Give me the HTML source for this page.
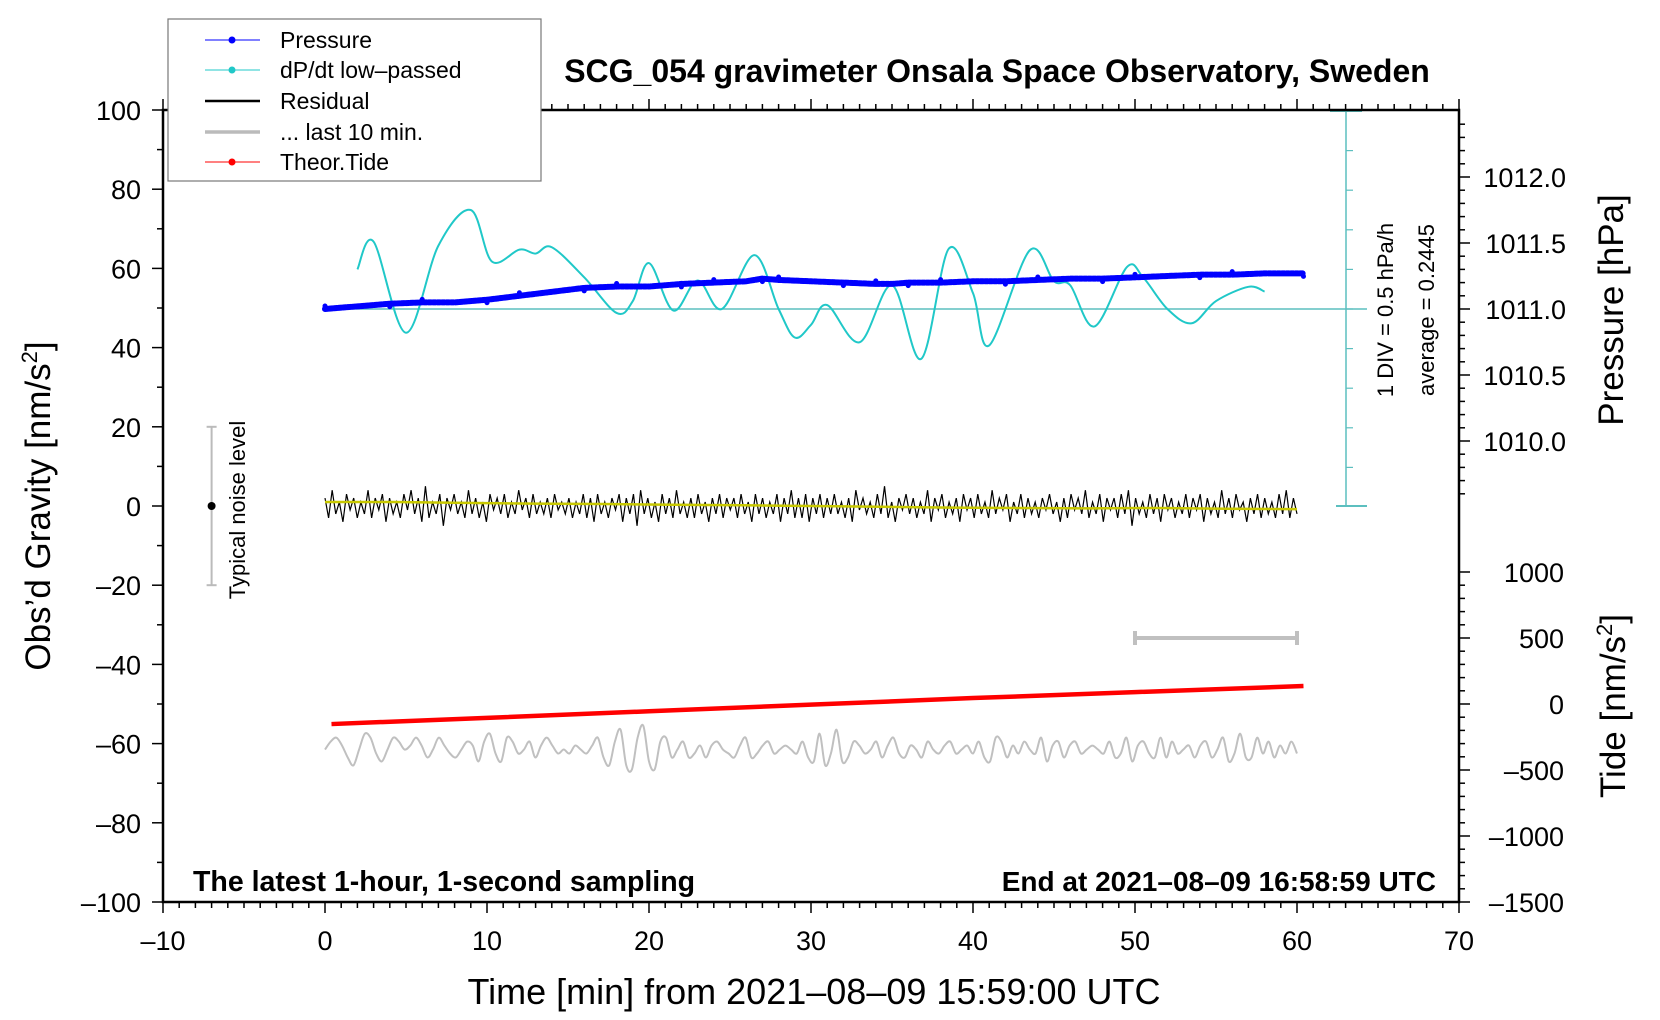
<!DOCTYPE html>
<html><head><meta charset="utf-8"><style>
html,body{margin:0;padding:0;background:#fff;}
svg{display:block;font-family:"Liberation Sans",Arial,sans-serif;}
</style></head><body>
<svg id="chart" width="1660" height="1020" viewBox="0 0 1660 1020" xmlns="http://www.w3.org/2000/svg">
<g id="marks"></g>
<g id="axes"></g>
<text x="997" y="82" text-anchor="middle" font-size="32" font-weight="bold">SCG_054 gravimeter Onsala Space Observatory, Sweden</text>
<text x="193" y="891" font-size="28.5" font-weight="bold">The latest 1-hour, 1-second sampling</text>
<text x="1436" y="891" text-anchor="end" font-size="28" font-weight="bold">End at 2021–08–09 16:58:59 UTC</text>
<text x="814" y="1004" text-anchor="middle" font-size="36">Time [min] from 2021–08–09 15:59:00 UTC</text>
<text transform="translate(50,506) rotate(-90)" text-anchor="middle" font-size="35">Obs’d Gravity [nm/s<tspan font-size="22" dy="-13">2</tspan><tspan dy="13">]</tspan></text>
<text transform="translate(1623,310) rotate(-90)" text-anchor="middle" font-size="35">Pressure [hPa]</text>
<text transform="translate(1625,706) rotate(-90)" text-anchor="middle" font-size="35">Tide [nm/s<tspan font-size="22" dy="-13">2</tspan><tspan dy="13">]</tspan></text>
<text transform="translate(1393,310) rotate(-90)" text-anchor="middle" font-size="22">1 DIV = 0.5 hPa/h</text>
<text transform="translate(1434,310) rotate(-90)" text-anchor="middle" font-size="22">average = 0.2445</text>
<text transform="translate(245,510) rotate(-90)" text-anchor="middle" font-size="22">Typical noise level</text>
<g>
<rect x="168" y="19" width="373" height="162" fill="#fff" stroke="#777" stroke-width="1.2"/>
<g><line x1="205" y1="40" x2="260" y2="40" stroke="#0000ff" stroke-width="1"/><circle cx="232" cy="40" r="3.5" fill="#0000ff"/><text x="280" y="48" font-size="23">Pressure</text></g>
<g><line x1="205" y1="70" x2="260" y2="70" stroke="#20c8c8" stroke-width="1"/><circle cx="232" cy="70" r="3.5" fill="#20c8c8"/><text x="280" y="78" font-size="23">dP/dt low–passed</text></g>
<g><line x1="205" y1="101" x2="260" y2="101" stroke="#000" stroke-width="2.5"/><text x="280" y="109" font-size="23">Residual</text></g>
<g><line x1="205" y1="132" x2="260" y2="132" stroke="#bbb" stroke-width="3.5"/><text x="280" y="140" font-size="23">... last 10 min.</text></g>
<g><line x1="205" y1="162" x2="260" y2="162" stroke="#ff0000" stroke-width="1"/><circle cx="232" cy="162" r="3.5" fill="#ff0000"/><text x="280" y="170" font-size="23">Theor.Tide</text></g>
</g>
</svg>
<script>
// ---- data ----
const xTicks = [-10,0,10,20,30,40,50,60,70];
const yTicks = [100,80,60,40,20,0,-20,-40,-60,-80,-100];
const pTicks = [1012.0,1011.5,1011.0,1010.5,1010.0];
const tideTicks = [1000,500,0,-500,-1000,-1500];
const pressTime = [0,2,4,6,8,10,12,14,16,18,20,22,24,26,27,28,30,32,34,35,36,38,40,42,44,46,48,50,52,54,56,58,60.4];
const pressVal = [1011.0,1011.02,1011.04,1011.05,1011.05,1011.07,1011.1,1011.13,1011.16,1011.17,1011.17,1011.19,1011.2,1011.21,1011.23,1011.22,1011.21,1011.2,1011.19,1011.19,1011.2,1011.2,1011.21,1011.21,1011.22,1011.23,1011.23,1011.24,1011.25,1011.26,1011.26,1011.27,1011.27];
const dpTime = [2,3,5,7,9,10.3,12,13,14,16,18,19,20,21.5,23,24.5,26.5,28,29,30,31,33,35,36.8,38.5,40,41,43.5,45,46,47.5,49.5,50.5,52,53.5,55,57,58];
const dpVal = [0.5,0.85,-0.3,0.8,1.25,0.6,0.75,0.7,0.78,0.4,-0.05,0.1,0.58,-0.02,0.36,0,0.68,0,-0.36,-0.2,0.05,-0.42,0.3,-0.63,0.76,0.2,-0.46,0.74,0.35,0.3,-0.22,0.53,0.4,0,-0.18,0.1,0.28,0.22];
const residual = [2,-3,4,-2,1,-4,3,-1,2,-3,1,-2,4,-3,2,-1,3,-4,2,-2,1,-3,3,-1,4,-2,2,-4,5,-3,1,-2,3,-5,2,-1,3,-2,1,-3,4,-2,2,-3,1,-4,3,-1,2,-2,3,-3,1,-2,4,-1,2,-3,3,-2,1,-2,2,-3,3,-1,1,-2,2,-3,1,-2,3,-3,2,-4,3,-2,1,-3,2,-1,3,-4,2,-2,3,-5,4,-2,2,-3,1,-4,3,-2,2,-3,4,-2,1,-3,2,-3,3,-2,1,-4,2,-2,3,-3,2,-1,2,-3,3,-2,1,-4,3,-2,2,-3,1,-2,3,-4,2,-2,4,-3,2,-3,3,-4,2,-2,3,-3,2,-2,
3,-2,1,-3,2,-4,4,-1,2,-2,1,-3,3,-2,5,-3,1,-4,2,-1,3,-2,2,-3,1,-2,4,-4,2,-1,3,-3,1,-2,2,-4,3,-1,2,-3,3,-2,1,-3,4,-2,2,-1,3,-4,1,-2,3,-3,2,-2,1,-3,2,-1,3,-2,1,-4,2,-3,3,-1,2,-2,4,-3,1,-2,3,-4,2,-1,2,-3,3,-2,4,-5,2,-2,1,-3,3,-2,2,-4,3,-1,2,-3,1,-2,3,-3,2,-1,3,-4,2,-2,1,-3,4,-2,2,-3,3,-1,1,-4,2,-2,3,-3,2,-2,1,-3,3,-2,4,-3,2,-2];
const smooth = [1,1,0.8,0.6,0.5,0.3,0.2,0,-0.2,-0.4,-0.5,-0.6,-0.5,-0.7,-0.8];
const lastTen = [0,2,3,1,-2,-4,0,4,3,-1,-3,0,3,2,0,1,3,1,-2,0,3,1,-1,-2,0,2,1,-3,2,4,-1,-3,3,2,-1,0,2,-2,1,3,1,-1,0,-1,1,0,-1,1,3,-2,-4,2,5,-4,-5,3,6,-3,-5,2,3,-2,0,2,-2,-1,1,-2,1,2,0,-1,-2,1,3,-2,-1,1,2,-1,0,1,0,-1,2,-2,-3,4,-4,-1,5,-3,-2,2,1,-1,0,2,-2,1,3,-1,-2,1,0,-2,2,0,-1,1,2,-1,0,1,-1,2,-2,-3,3,2,-2,1,-1,2,0,-1,3,-3,1,2,-2,1,2,-1,0,1,0,-1,2,-2,-1,3,-3,1,2,-1,-2,3,-2,2,-1,0,1,-2,1,2,-2,0,3,-3,-1,4,-2,-2,3,-1,2,-2,1,-1,2,-1];
const tideTime = [0.4,10,20,30,40,50,60.4];
const tideVal = [-152,-105,-55,-5,45,90,136];
// ---- scales ----
const X = t => 325 + (t)*16.2;
const Y = g => 506 - g*3.96;
const P = p => 309 - (p-1011)*132;
const T = v => 704 - v*0.132;
const DP = v => 309 - v/0.5*39.6;
const NS='http://www.w3.org/2000/svg';
function mk(tag,attrs,parent){const e=document.createElementNS(NS,tag);for(const k in attrs)e.setAttribute(k,attrs[k]);parent.appendChild(e);return e;}
const marks=document.getElementById('marks');
const axes=document.getElementById('axes');
function smoothPath(pts){let d='M'+pts[0][0]+','+pts[0][1];for(let i=0;i<pts.length-1;i++){const p0=pts[i-1]||pts[i],p1=pts[i],p2=pts[i+1],p3=pts[i+2]||p2;d+=' C'+(p1[0]+(p2[0]-p0[0])/6)+','+(p1[1]+(p2[1]-p0[1])/6)+' '+(p2[0]-(p3[0]-p1[0])/6)+','+(p2[1]-(p3[1]-p1[1])/6)+' '+p2[0]+','+p2[1];}return d;}
// dP/dt scale
const sc=mk('g',{},marks);


mk('line',{x1:X(0),y1:DP(0),x2:1367,y2:DP(0),stroke:'#5cbfbf','stroke-width':1.5},sc);
mk('line',{x1:1346,y1:111,x2:1346,y2:506,stroke:'#5cbfbf','stroke-width':1.5},sc);
mk('line',{x1:1330,y1:111,x2:1362,y2:111,stroke:'#5cbfbf','stroke-width':2},sc);
mk('line',{x1:1336,y1:506,x2:1367,y2:506,stroke:'#5cbfbf','stroke-width':2},sc);
for(let k=-5;k<=5;k++){const y=DP(k*0.5);if(y>111&&y<506)mk('line',{x1:1346,y1:y,x2:1353,y2:y,stroke:'#5cbfbf','stroke-width':1.2},sc);}
// dP/dt curve
const dpPath=mk('path',{d:smoothPath(dpTime.map((t,i)=>[X(t),DP(dpVal[i])])),fill:'none',stroke:'#20c8c8','stroke-width':2},marks);


// pressure
const pl=mk('polyline',{points:pressTime.map((t,i)=>X(t)+','+P(pressVal[i])).join(' '),fill:'none',stroke:'#0000ff','stroke-width':6,'stroke-linejoin':'round','stroke-linecap':'round','stroke-dasharray':'3 1.5'},marks);


pressTime.forEach((t,i)=>{const c=mk('circle',{cx:X(t),cy:P(pressVal[i])+((i%3)-1)*3,r:2.5,fill:'#0000ff'},marks);

});
// residual
const rStep=60/(residual.length-1);
const rl=mk('polyline',{points:residual.map((v,i)=>X(i*rStep)+','+Y(v)).join(' '),fill:'none',stroke:'#000','stroke-width':1.2},marks);


const sStep=60/(smooth.length-1);
const sl=mk('polyline',{points:smooth.map((v,i)=>X(i*sStep)+','+Y(v)).join(' '),fill:'none',stroke:'#c8c800','stroke-width':2.5},marks);


// last 10 min
const lStep=60/(lastTen.length-1);
const ll=mk('path',{d:smoothPath(lastTen.map((v,i)=>[X(i*lStep),Y(-61.5+v)])),fill:'none',stroke:'#c0c0c0','stroke-width':2},marks);


// 10 min bar
const bar=mk('g',{stroke:'#c0c0c0','stroke-width':4},marks);


mk('line',{x1:X(50),y1:T(500),x2:X(60),y2:T(500)},bar);
mk('line',{x1:X(50),y1:T(500)-7,x2:X(50),y2:T(500)+7},bar);
mk('line',{x1:X(60),y1:T(500)-7,x2:X(60),y2:T(500)+7},bar);
// tide
const tl=mk('polyline',{points:tideTime.map((t,i)=>X(t)+','+T(tideVal[i])).join(' '),fill:'none',stroke:'#ff0000','stroke-width':4.5},marks);


// noise bar
const nb=mk('g',{},marks);


mk('line',{x1:X(-7),y1:Y(20),x2:X(-7),y2:Y(-20),stroke:'#bbb','stroke-width':2},nb);
mk('line',{x1:X(-7)-5,y1:Y(20),x2:X(-7)+5,y2:Y(20),stroke:'#bbb','stroke-width':2},nb);
mk('line',{x1:X(-7)-5,y1:Y(-20),x2:X(-7)+5,y2:Y(-20),stroke:'#bbb','stroke-width':2},nb);
mk('circle',{cx:X(-7),cy:Y(0),r:4,fill:'#000'},nb);
// frame
const fr=mk('rect',{x:X(-10),y:Y(100),width:X(70)-X(-10),height:Y(-100)-Y(100),fill:'none',stroke:'#000','stroke-width':2.5},axes);


const tk=mk('g',{stroke:'#000','stroke-width':1.5},axes);
for(let t=-10;t<=70;t++){const maj=t%10===0;mk('line',{x1:X(t),y1:Y(-100),x2:X(t),y2:Y(-100)+(maj?11:6)},tk);mk('line',{x1:X(t),y1:Y(100),x2:X(t),y2:Y(100)-(maj?11:6)},tk);}
for(let g=-100;g<=100;g+=10){const maj=g%20===0;mk('line',{x1:X(-10),y1:Y(g),x2:X(-10)-(maj?11:6),y2:Y(g)},tk);}
for(let p=10095;p<=10124;p++){const y=P(p/10);if(y>111&&y<500)mk('line',{x1:X(70),y1:y,x2:X(70)+(p%5===0?11:6),y2:y},tk);}
for(let v=-1500;v<=1000;v+=100){mk('line',{x1:X(70),y1:T(v),x2:X(70)+(v%500===0?11:6),y2:T(v)},tk);}
xTicks.forEach(t=>{const e=mk('text',{x:X(t),y:950,'text-anchor':'middle','font-size':27},axes);e.textContent=String(t).replace('-','–');

});
yTicks.forEach(g=>{const e=mk('text',{x:141,y:Y(g)+10,'text-anchor':'end','font-size':27},axes);e.textContent=String(g).replace('-','–');

});
pTicks.forEach(p=>{const e=mk('text',{x:1566,y:P(p)+10,'text-anchor':'end','font-size':27},axes);e.textContent=p.toFixed(1);

});
tideTicks.forEach(v=>{const e=mk('text',{x:1564,y:T(v)+10,'text-anchor':'end','font-size':27},axes);e.textContent=String(v).replace('-','–');

});
</script>
</body></html>
